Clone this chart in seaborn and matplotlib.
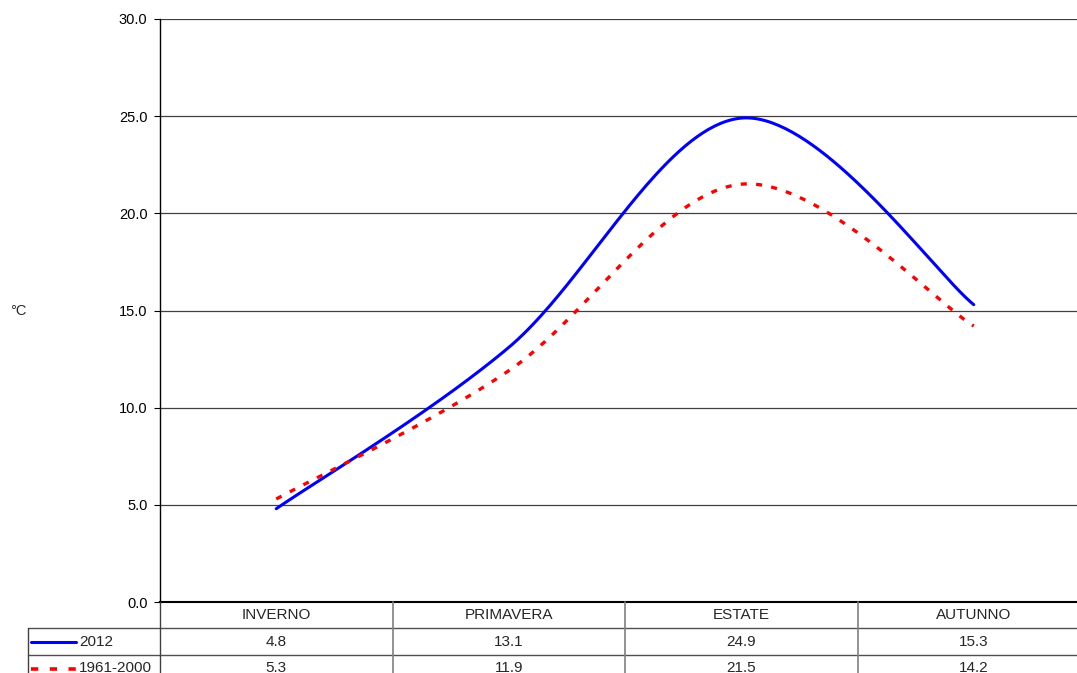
import numpy as np
import pandas as pd
import matplotlib
matplotlib.use("Agg")
import matplotlib.pyplot as plt
from matplotlib.lines import Line2D
import seaborn as sns

# ---- data ----
categories = ["INVERNO", "PRIMAVERA", "ESTATE", "AUTUNNO"]
series_names = ["2012", "1961-2000"]
values_2012 = [4.8, 13.1, 24.9, 15.3]
values_ref = [5.3, 11.9, 21.5, 14.2]
yticks = [0, 5, 10, 15, 20, 25, 30]

sns.set_theme(style="white")
plt.rcParams["font.family"] = ["Liberation Sans", "DejaVu Sans"]

W, H = 1077, 673
fig = plt.figure(figsize=(W / 100, H / 100), dpi=100)


def fx(px):
    return px / W


def fy(py):
    return 1 - py / H


# axes: x from 160 to 1090 px, y from 19 to 602 px
ax = fig.add_axes([fx(160), fy(602), (1090 - 160) / W, (602 - 19) / H])


def smooth(vals, n=80):
    """Excel-like smoothed line (Catmull-Rom Bezier)."""
    pts = np.array([[i, v] for i, v in enumerate(vals)], dtype=float)
    out = []
    m = len(pts)
    for i in range(m - 1):
        p0 = pts[max(i - 1, 0)]
        p1 = pts[i]
        p2 = pts[i + 1]
        p3 = pts[min(i + 2, m - 1)]
        c1 = p1 + (p2 - p0) / 6
        c2 = p2 - (p3 - p1) / 6
        t = np.linspace(0, 1, n)[:, None]
        seg = ((1 - t) ** 3) * p1 + 3 * ((1 - t) ** 2) * t * c1 + 3 * (1 - t) * t ** 2 * c2 + t ** 3 * p2
        if i > 0:
            seg = seg[1:]
        out.append(seg)
    return np.vstack(out)


frames = []
for name, vals in zip(series_names, [values_2012, values_ref]):
    s = smooth(vals)
    frames.append(pd.DataFrame({"x": s[:, 0], "y": s[:, 1], "serie": name}))
df = pd.concat(frames, ignore_index=True)

ax.set_xlim(-0.5, 3.5)
ax.set_ylim(0, 30)

# grid lines
for v in yticks[1:]:
    ax.axhline(v, color="#404040", lw=0.9, zorder=0)

sns.lineplot(data=df[df.serie == "2012"], x="x", y="y", ax=ax, color="#0000FF",
             lw=2.2, sort=False, estimator=None, legend=False)
sns.lineplot(data=df[df.serie == "1961-2000"], x="x", y="y", ax=ax, color="#FF0000",
             lw=2.4, sort=False, estimator=None, legend=False, dashes=False)
ax.lines[-1].set_dashes((1.8, 2.8))

ax.set_yticks(yticks)
ax.set_yticklabels([f"{v:.1f}" for v in yticks], fontsize=10.5, color="black")
ax.tick_params(axis="y", direction="out", length=4, width=0.8, pad=5, left=True, colors="black")
ax.tick_params(axis="x", bottom=False, labelbottom=False)
ax.set_xlabel("")
ax.set_ylabel("")
for side in ["top", "right"]:
    ax.spines[side].set_visible(False)
ax.spines["left"].set_color("black")
ax.spines["left"].set_linewidth(1.0)
ax.spines["bottom"].set_color("black")
ax.spines["bottom"].set_linewidth(1.5)

fig.text(fx(18), fy(311), "°C", fontsize=10.5, ha="center", va="center")

# ---- data table ----
col_edges = [160, 392.5, 625, 857.5, 1090]
row_top, row1, row2, row3 = 602, 628, 655, 682


def hline(y, x0, x1, color="#505050", lw=1.0):
    fig.add_artist(Line2D([fx(x0), fx(x1)], [fy(y), fy(y)], color=color, lw=lw))


def vline(x, y0, y1, color="#808080", lw=1.2):
    fig.add_artist(Line2D([fx(x), fx(x)], [fy(y0), fy(y1)], color=color, lw=lw))


hline(row1, 28, W)
hline(row2, 28, W)
vline(28, row1, H + 5, color="#404040", lw=1.0)
vline(160, row_top, H + 5, color="#404040", lw=1.0)
for x in col_edges[1:-1]:
    vline(x, row_top, H + 5)

for i, c in enumerate(categories):
    cx = (col_edges[i] + col_edges[i + 1]) / 2
    fig.text(fx(cx), fy((row_top + row1) / 2), c, fontsize=11, ha="center", va="center")
    fig.text(fx(cx), fy((row1 + row2) / 2), f"{values_2012[i]:.1f}", fontsize=11, ha="center", va="center")
    fig.text(fx(cx), fy((row2 + row3) / 2), f"{values_ref[i]:.1f}", fontsize=11, ha="center", va="center")

# legend keys inside table
fig.add_artist(Line2D([fx(31), fx(76)], [fy(642), fy(642)], color="#0000FF", lw=2.2))
kl = Line2D([fx(31), fx(76)], [fy(669), fy(669)], color="#FF0000", lw=2.6)
kl.set_dashes((2.0, 3.2))
fig.add_artist(kl)
fig.text(fx(79), fy((row1 + row2) / 2), series_names[0], fontsize=11, ha="left", va="center")
fig.text(fx(79), fy((row2 + row3) / 2), series_names[1], fontsize=11, ha="left", va="center")

fig.savefig("out.png", dpi=100)
